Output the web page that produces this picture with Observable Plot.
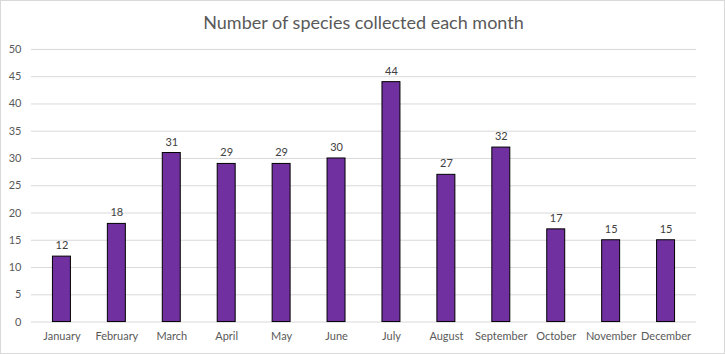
<!DOCTYPE html>
<html>
<head>
<meta charset="utf-8">
<script src="https://cdn.jsdelivr.net/npm/d3@7"></script>
<script src="https://cdn.jsdelivr.net/npm/@observablehq/plot@0.6"></script>
<style>
  html, body { margin: 0; padding: 0; background: #fff; }
  #wrap { position: relative; width: 725px; height: 354px; box-sizing: border-box; border: 1px solid #d9d9d9; overflow: hidden; }
  #title { position: absolute; left: 0; top: 10px; width: 725px; text-align: center; font-family: Lato, "Open Sans", sans-serif; font-size: 18px; color: #595959; }
  #chart { position: absolute; left: -1px; top: -1px; }
</style>
</head>
<body>
<div id="wrap">
  <div id="title">Number of species collected each month</div>
  <div id="chart"></div>
</div>
<script>
const months = ["January","February","March","April","May","June","July","August","September","October","November","December"];
const counts = [12, 18, 31, 29, 29, 30, 44, 27, 32, 17, 15, 15];
const yTicks = [0, 5, 10, 15, 20, 25, 30, 35, 40, 45, 50];

const data = months.map((m, i) => ({month: m, count: counts[i]}));

const chart = Plot.plot({
  width: 725,
  height: 354,
  marginLeft: 31,
  marginRight: 28,
  marginTop: 49,
  marginBottom: 32,
  style: {fontFamily: "Lato, 'Open Sans', sans-serif", fontSize: "11px", color: "#595959", background: "transparent"},
  x: {domain: months, padding: 0, label: null},
  y: {domain: [0, 50], ticks: yTicks, label: null},
  marks: [
    Plot.gridY(yTicks, {stroke: "#d9d9d9", strokeOpacity: 1}),
    Plot.axisY(yTicks, {tickSize: 0, tickPadding: 10, fill: "#595959", label: null}),
    Plot.axisX({tickSize: 0, tickPadding: 10, fill: "#595959", label: null}),
    Plot.barY(data, {x: "month", y: "count", fill: "#7030A0", stroke: "#000", strokeWidth: 1, insetLeft: 18.5, insetRight: 18.5}),
    Plot.text(data, {x: "month", y: "count", text: d => String(d.count), dy: -11, fill: "#404040", fontSize: 11})
  ]
});
document.getElementById("chart").appendChild(chart);
</script>
</body>
</html>
